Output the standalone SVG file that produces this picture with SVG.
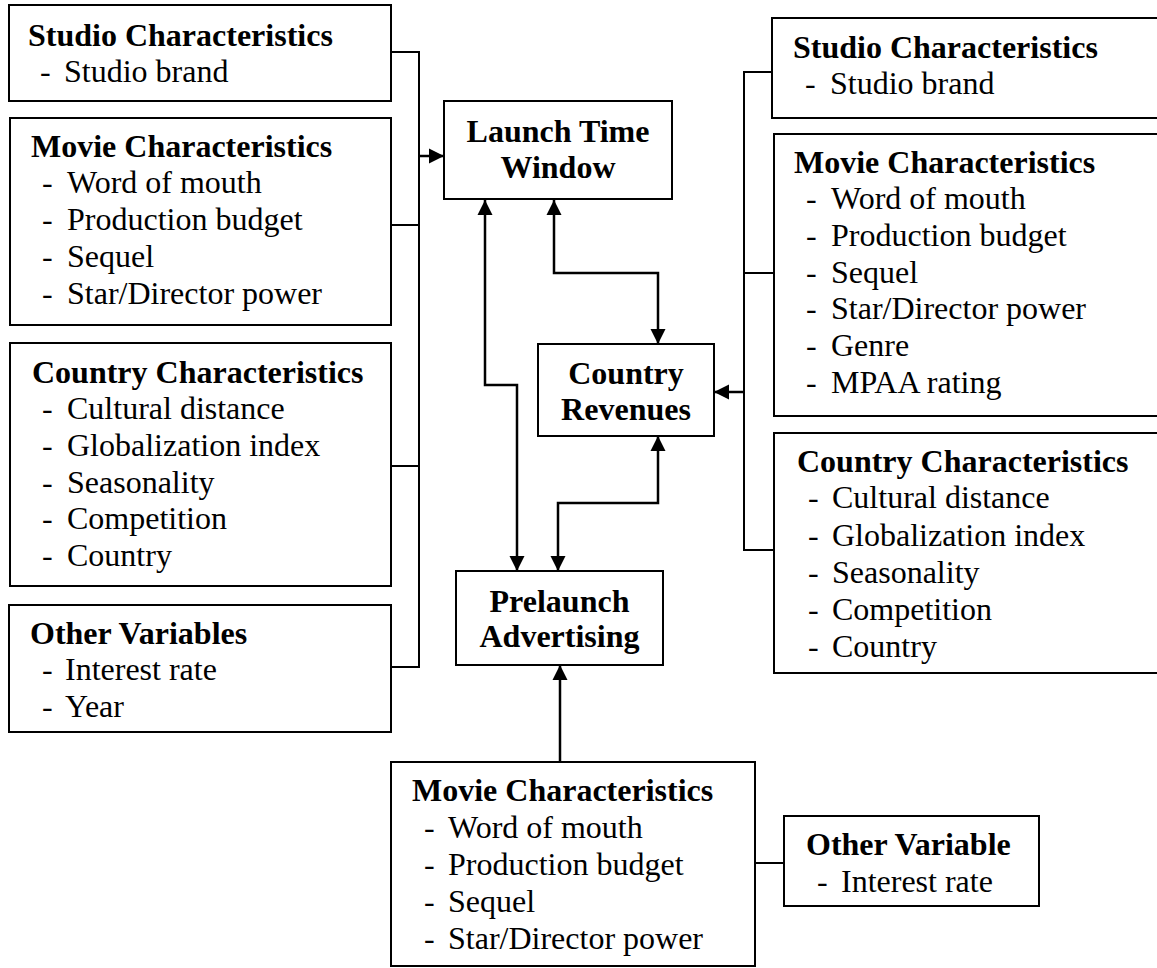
<svg xmlns="http://www.w3.org/2000/svg" width="1157" height="968" viewBox="0 0 1157 968">
<style>
.box{fill:#fff;stroke:#000;stroke-width:2}
text{font-family:'Liberation Serif','Times New Roman',Tinos,Times,'Nimbus Roman','DejaVu Serif',serif;font-size:32px;fill:#000}
.t{font-weight:bold}
.c{font-weight:bold;text-anchor:middle}
.br{fill:none;stroke:#000;stroke-width:2}
.ar{fill:none;stroke:#000;stroke-width:2.5}
</style>
<defs>
<marker id="ah" markerUnits="userSpaceOnUse" markerWidth="16" markerHeight="16" refX="15" refY="8" orient="auto-start-reverse" viewBox="0 0 16 16">
<path d="M0,0.5 L15,8 L0,15.5 z" fill="#000"/>
</marker>
</defs>
<rect width="1157" height="968" fill="#fff"/>
<g id="connectors">
<path class="br" d="M391,52 H419 V667 H391 M391,225 H419 M391,466 H419"/>
<path class="ar" d="M419,156 H444" marker-end="url(#ah)"/>
<path class="ar" d="M485,200 V385 H517 V571" marker-start="url(#ah)" marker-end="url(#ah)"/>
<path class="ar" d="M554,200 V273 H658 V344" marker-start="url(#ah)" marker-end="url(#ah)"/>
<path class="ar" d="M658,436 V503 H558 V571" marker-start="url(#ah)" marker-end="url(#ah)"/>
<path class="ar" d="M560,762 V665" marker-end="url(#ah)"/>
<path class="br" d="M772,72 H744 V550 H774 M744,273 H774"/>
<path class="ar" d="M744,392 H714" marker-end="url(#ah)"/>
<path class="br" d="M755,863 H784"/>
</g>
<g id="left-studio">
<rect class="box" x="9" y="5" width="382" height="96"/>
<text class="t" x="28" y="46" font-family="Liberation Serif, serif">Studio Characteristics</text>
<text class="i" x="40" y="82">- <tspan x="64">Studio brand</tspan></text>
</g>
<g id="left-movie">
<rect class="box" x="10" y="118" width="381" height="207"/>
<text class="t" x="31" y="157">Movie Characteristics</text>
<text class="i" x="42" y="193">- <tspan x="67">Word of mouth</tspan></text>
<text class="i" x="42" y="230">- <tspan x="67">Production budget</tspan></text>
<text class="i" x="42" y="267">- <tspan x="67">Sequel</tspan></text>
<text class="i" x="42" y="304">- <tspan x="67">Star/Director power</tspan></text>
</g>
<g id="left-country">
<rect class="box" x="10" y="343" width="381" height="243"/>
<text class="t" x="32" y="383">Country Characteristics</text>
<text class="i" x="42" y="419">- <tspan x="67">Cultural distance</tspan></text>
<text class="i" x="42" y="456">- <tspan x="67">Globalization index</tspan></text>
<text class="i" x="42" y="493">- <tspan x="67">Seasonality</tspan></text>
<text class="i" x="42" y="529">- <tspan x="67">Competition</tspan></text>
<text class="i" x="42" y="566">- <tspan x="67">Country</tspan></text>
</g>
<g id="left-other">
<rect class="box" x="9" y="605" width="382" height="127"/>
<text class="t" x="30" y="644">Other Variables</text>
<text class="i" x="42" y="680">- <tspan x="65">Interest rate</tspan></text>
<text class="i" x="42" y="717">- <tspan x="65">Year</tspan></text>
</g>
<g id="launch">
<rect class="box" x="444" y="101" width="228" height="98"/>
<text class="c" x="558" y="142">Launch Time</text>
<text class="c" x="558" y="178">Window</text>
</g>
<g id="revenues">
<rect class="box" x="538" y="344" width="176" height="92"/>
<text class="c" x="626" y="384">Country</text>
<text class="c" x="626" y="420">Revenues</text>
</g>
<g id="prelaunch">
<rect class="box" x="456" y="571" width="207" height="94"/>
<text class="c" x="559.5" y="612">Prelaunch</text>
<text class="c" x="559.5" y="647">Advertising</text>
</g>
<g id="right-studio">
<rect class="box" x="772" y="18" width="400" height="100"/>
<text class="t" x="793" y="58">Studio Characteristics</text>
<text class="i" x="805" y="94">- <tspan x="830">Studio brand</tspan></text>
</g>
<g id="right-movie">
<rect class="box" x="774" y="134" width="400" height="282"/>
<text class="t" x="794" y="173">Movie Characteristics</text>
<text class="i" x="806" y="209">- <tspan x="831">Word of mouth</tspan></text>
<text class="i" x="806" y="246">- <tspan x="831">Production budget</tspan></text>
<text class="i" x="806" y="283">- <tspan x="831">Sequel</tspan></text>
<text class="i" x="806" y="319">- <tspan x="831">Star/Director power</tspan></text>
<text class="i" x="806" y="356">- <tspan x="831">Genre</tspan></text>
<text class="i" x="806" y="393">- <tspan x="831">MPAA rating</tspan></text>
</g>
<g id="right-country">
<rect class="box" x="774" y="433" width="400" height="240"/>
<text class="t" x="797" y="472">Country Characteristics</text>
<text class="i" x="808" y="508">- <tspan x="832">Cultural distance</tspan></text>
<text class="i" x="808" y="546">- <tspan x="832">Globalization index</tspan></text>
<text class="i" x="808" y="583">- <tspan x="832">Seasonality</tspan></text>
<text class="i" x="808" y="620">- <tspan x="832">Competition</tspan></text>
<text class="i" x="808" y="657">- <tspan x="832">Country</tspan></text>
</g>
<g id="bottom-movie">
<rect class="box" x="391" y="762" width="364" height="204"/>
<text class="t" x="412" y="801">Movie Characteristics</text>
<text class="i" x="424" y="838">- <tspan x="448">Word of mouth</tspan></text>
<text class="i" x="424" y="875">- <tspan x="448">Production budget</tspan></text>
<text class="i" x="424" y="912">- <tspan x="448">Sequel</tspan></text>
<text class="i" x="424" y="949">- <tspan x="448">Star/Director power</tspan></text>
</g>
<g id="bottom-other">
<rect class="box" x="784" y="816" width="255" height="90"/>
<text class="t" x="806" y="855">Other Variable</text>
<text class="i" x="817" y="892">- <tspan x="841">Interest rate</tspan></text>
</g>
</svg>
